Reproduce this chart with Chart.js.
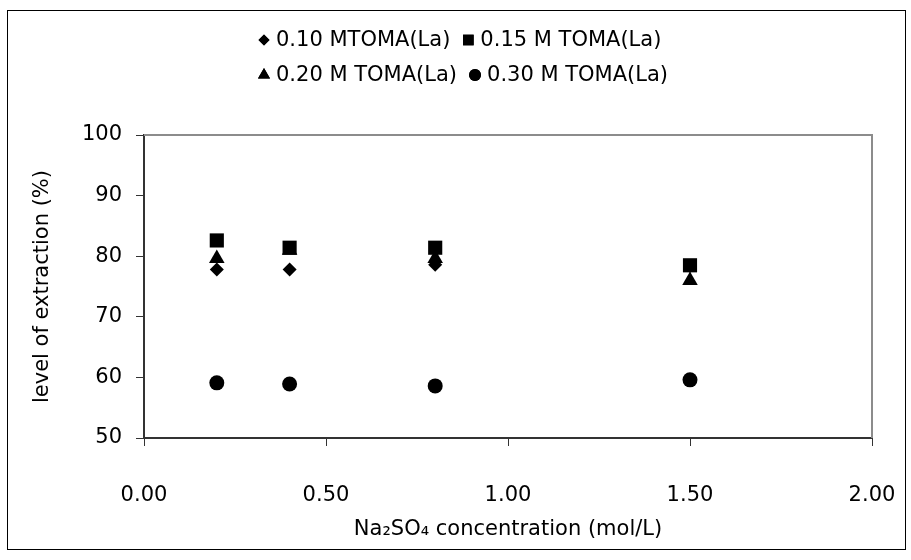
<!DOCTYPE html>
<html>
<head>
<meta charset="utf-8">
<script src="https://cdn.jsdelivr.net/npm/chart.js@4"></script>
<style>
  html, body { margin: 0; padding: 0; background: #fff; }
  #wrap { width: 911px; height: 560px; position: relative; }
</style>
</head>
<body>
<div id="wrap"><canvas id="extractionChart"></canvas></div>
<script>
// Na2SO4 concentration (mol/L)
const concentrations = [0.2, 0.4, 0.8, 1.5];

// level of extraction (%) per TOMA concentration
const toma010 = [77.8, 77.8, 78.6, 78.4];
const toma015 = [82.6, 81.4, 81.4, 78.5];
const toma020 = [79.6, 81.0, 79.6, 76.0];
const toma030 = [59.1, 58.9, 58.6, 59.6];

const seriesLabels = ['0.10 MTOMA(La)', '0.15 M TOMA(La)', '0.20 M TOMA(La)', '0.30 M TOMA(La)'];

const xTicks = [0, 0.5, 1, 1.5, 2];
const yTicks = [50, 60, 70, 80, 90, 100];

const FONT = "'DejaVu Sans', Verdana, sans-serif";

function toPoints(values) {
  return concentrations.map((x, i) => ({ x: x, y: values[i] }));
}

const markers = [
  { style: 'rectRot', radius: 7, legendRadius: 5.5 },
  { style: 'rect', radius: 10, legendRadius: 7.5 },
  { style: 'triangle', radius: 9, legendRadius: 7 },
  { style: 'circle', radius: 7.5, legendRadius: 6 },
];

// Two-row legend like the original (Chart.js would put all four in one row)
const twoRowLegend = {
  id: 'twoRowLegend',
  afterDraw(chart) {
    const ctx = chart.ctx;
    const rows = [[0, 1], [2, 3]];
    const rowY = [40, 75];
    ctx.save();
    ctx.font = '21px ' + FONT;
    ctx.fillStyle = '#000';
    ctx.textBaseline = 'middle';
    rows.forEach((row, r) => {
      let x = 258;
      row.forEach(i => {
        const m = markers[i];
        Chart.helpers.drawPoint(ctx, { pointStyle: m.style, radius: m.legendRadius, borderWidth: 0 }, x + 6, rowY[r]);
        ctx.fillStyle = '#000';
        ctx.fill();
        ctx.fillText(seriesLabels[i], x + 18, rowY[r] + 1);
        x += 18 + ctx.measureText(seriesLabels[i]).width + 12;
      });
    });
    ctx.restore();
  }
};

// White background, outer frame and the grey top/right edges of the plot area
const frame = {
  id: 'frame',
  beforeDraw(chart) {
    const ctx = chart.ctx;
    ctx.save();
    ctx.fillStyle = '#fff';
    ctx.fillRect(0, 0, chart.width, chart.height);
    ctx.strokeStyle = '#000';
    ctx.lineWidth = 1;
    ctx.strokeRect(7.5, 10.5, 898, 539);
    ctx.restore();
  },
  beforeDatasetsDraw(chart) {
    const { ctx, chartArea } = chart;
    ctx.save();
    ctx.strokeStyle = '#8c8c8c';
    ctx.lineWidth = 2;
    ctx.beginPath();
    ctx.moveTo(chartArea.left, chartArea.top);
    ctx.lineTo(chartArea.right, chartArea.top);
    ctx.lineTo(chartArea.right, chartArea.bottom);
    ctx.stroke();
    ctx.restore();
  }
};

const datasets = [toma010, toma015, toma020, toma030].map((values, i) => ({
  label: seriesLabels[i],
  data: toPoints(values),
  pointStyle: markers[i].style,
  pointRadius: markers[i].radius,
  pointBackgroundColor: '#000',
  pointBorderColor: '#000',
  pointBorderWidth: 0,
  showLine: false,
  order: [4, 2, 3, 1][i],
}));

const extractionChart = new Chart(document.getElementById('extractionChart'), {
  type: 'scatter',
  data: { datasets: datasets },
  options: {
    responsive: true,
    maintainAspectRatio: false,
    animation: false,
    layout: { padding: { left: 0, top: 135, right: 39, bottom: 0 } },
    plugins: {
      legend: { display: false },
      tooltip: { enabled: false },
    },
    scales: {
      x: {
        type: 'linear',
        min: 0,
        max: 2,
        afterBuildTicks: scale => { scale.ticks = xTicks.map(v => ({ value: v })); },
        afterFit: scale => {
          scale.height = 122;
          scale.paddingLeft = 0;
          scale.paddingRight = 0;
        },
        ticks: {
          color: '#000',
          font: { family: FONT, size: 21 },
          padding: 37,
          maxRotation: 0,
          callback: v => v.toFixed(2),
        },
        grid: { drawOnChartArea: false, tickLength: 8, color: '#333', lineWidth: 1 },
        border: { color: '#333', width: 2 },
        title: {
          display: true,
          text: 'Na₂SO₄ concentration (mol/L)',
          color: '#000',
          font: { family: FONT, size: 21 },
          padding: { bottom: 18 },
        },
      },
      y: {
        min: 50,
        max: 100,
        afterBuildTicks: scale => { scale.ticks = yTicks.map(v => ({ value: v })); },
        afterFit: scale => { scale.width = 144; },
        ticks: {
          color: '#000',
          font: { family: FONT, size: 21 },
          padding: 14,
        },
        grid: { drawOnChartArea: false, tickLength: 8, color: '#333', lineWidth: 1 },
        border: { color: '#333', width: 2 },
        title: {
          display: true,
          text: 'level of extraction (%)',
          color: '#000',
          font: { family: FONT, size: 21 },
          padding: { top: 30 },
        },
      },
    },
  },
  plugins: [frame, twoRowLegend],
});
</script>
</body>
</html>
